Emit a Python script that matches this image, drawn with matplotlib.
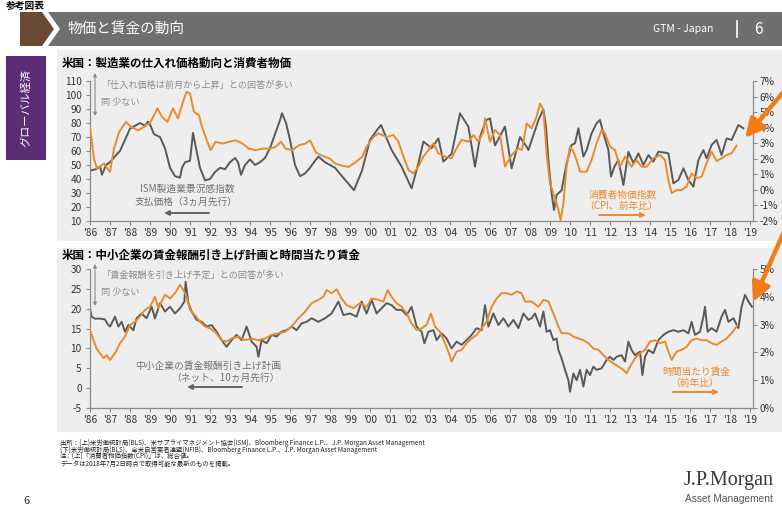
import matplotlib
matplotlib.use('Agg')
import matplotlib.pyplot as plt
from matplotlib.patches import Rectangle, Polygon, FancyArrowPatch
from matplotlib.lines import Line2D

plt.rcParams['font.family'] = ['Noto Sans CJK JP', 'DejaVu Sans']

# ---------------- data ----------------
# Top: ISM manufacturing prices paid (3 months lead), left axis
ism_t = [1986.0, 1986.3, 1986.5, 1986.6, 1986.8, 1987.0, 1987.3, 1987.5, 1987.75, 1988.0,
         1988.25, 1988.5, 1988.75, 1988.9, 1989.0, 1989.2, 1989.5, 1989.75, 1990.0, 1990.25,
         1990.5, 1990.6, 1990.75, 1991.0, 1991.15, 1991.3, 1991.5, 1991.75, 1992.0, 1992.25,
         1992.5, 1992.75, 1993.0, 1993.25, 1993.4, 1993.55, 1993.75, 1994.0, 1994.25, 1994.5,
         1994.75, 1995.0, 1995.25, 1995.5, 1995.6, 1995.8, 1996.0, 1996.25, 1996.5, 1996.75,
         1997.0, 1997.25, 1997.42, 1997.75, 1998.25, 1998.6, 1998.9, 1999.2, 1999.6, 2000.0,
         2000.3, 2000.55, 2000.8, 2001.08, 2001.58, 2002.08, 2002.42, 2002.67, 2003.08, 2003.42,
         2003.67, 2004.08, 2004.5, 2004.92, 2005.25, 2005.5, 2005.8, 2006.0, 2006.25, 2006.75,
         2007.08, 2007.5, 2007.83, 2007.92, 2008.17, 2008.42, 2008.67, 2008.8, 2008.92, 2009.08,
         2009.2, 2009.33, 2009.58, 2009.83, 2010.08, 2010.25, 2010.42, 2010.67, 2010.83, 2011.08,
         2011.33, 2011.5, 2011.67, 2011.92, 2012.05, 2012.22, 2012.42, 2012.67, 2012.92, 2013.17,
         2013.42, 2013.67, 2013.92, 2014.17, 2014.42, 2014.75, 2014.92, 2015.17, 2015.42, 2015.67,
         2015.92, 2016.17, 2016.42, 2016.67, 2016.83, 2017.08, 2017.33, 2017.58, 2017.83, 2018.08,
         2018.42, 2018.67]
ism_v = [46, 47, 49, 43, 50, 52, 57, 60, 68, 76,
         78, 80, 78, 81, 79, 72, 70, 62, 48, 42,
         41, 48, 52, 53, 73, 62, 48, 39, 40, 45,
         48, 47, 52, 55, 52, 43, 50, 54, 50, 52,
         55, 62, 72, 82, 87, 80, 68, 50, 42, 44,
         48, 53, 56, 52, 48, 42, 37, 32, 46, 68,
         74, 78.6, 70, 60.7, 48.8, 33.3, 51.2, 66.7, 62, 69,
         52.4, 58, 86.9, 77.4, 48.8, 70, 82, 83.3, 64, 77.4,
         47.6, 70, 63, 60.7, 71.4, 82, 89.8, 77.4, 53.6, 29.8,
         17.9, 28.6, 32, 51.2, 64.3, 65.5, 76.2, 56, 60.7, 72.6,
         79.8, 82.1, 72.6, 60.7, 41.7, 48.8, 53.6, 35.7, 59.5, 51.2,
         58.3, 50, 57.1, 52.4, 59.5, 58.8, 58.3, 36.9, 39.3, 47.6,
         39.3, 34.5, 53.6, 60.7, 54.8, 64.3, 67.9, 57.1, 69, 67.9,
         78.6, 76.2]

# Top: CPI (YoY, %), right axis
cpi_t = [1986.0, 1986.2, 1986.35, 1986.7, 1987.0, 1987.2, 1987.45, 1987.8, 1988.05, 1988.4,
         1988.7, 1989.03, 1989.37, 1989.6, 1989.87, 1990.15, 1990.4, 1990.65, 1990.83, 1991.0,
         1991.2, 1991.45, 1991.6, 1991.87, 1992.03, 1992.28, 1992.62, 1992.95, 1993.28, 1993.62,
         1993.95, 1994.28, 1994.62, 1995.0, 1995.28, 1995.55, 1995.78, 1996.1, 1996.45, 1996.78,
         1997.0, 1997.3, 1997.58, 1998.0, 1998.25, 1998.58, 1998.92, 1999.28, 1999.6, 1999.83,
         2000.17, 2000.42, 2000.83, 2001.17, 2001.42, 2001.67, 2001.92, 2002.17, 2002.42, 2002.67,
         2002.92, 2003.17, 2003.42, 2003.75, 2004.08, 2004.33, 2004.58, 2004.92, 2005.17, 2005.42,
         2005.67, 2005.75, 2006.0, 2006.25, 2006.5, 2006.75, 2007.08, 2007.42, 2007.6, 2007.83,
         2008.08, 2008.33, 2008.5, 2008.67, 2008.83, 2009.0, 2009.25, 2009.42, 2009.53, 2009.67,
         2009.83, 2010.0, 2010.17, 2010.33, 2010.5, 2010.83, 2011.08, 2011.33, 2011.58, 2011.75,
         2012.0, 2012.25, 2012.5, 2012.75, 2013.08, 2013.33, 2013.58, 2013.83, 2014.17, 2014.5,
         2014.75, 2014.92, 2015.08, 2015.33, 2015.58, 2015.83, 2016.08, 2016.33, 2016.58, 2016.83,
         2017.08, 2017.33, 2017.58, 2017.83, 2018.08, 2018.33]
cpi_v = [4.05, 2.0, 1.36, 1.69, 1.15, 2.65, 3.72, 4.37, 4.05, 3.83,
         4.05, 4.37, 5.24, 4.7, 4.37, 5.24, 4.59, 5.67, 6.31, 6.19,
         5.02, 4.8, 4.05, 3.09, 2.55, 3.09, 2.98, 3.09, 3.19, 2.98,
         2.65, 2.55, 2.65, 2.65, 2.76, 3.09, 2.65, 2.55, 2.87, 2.98,
         3.19, 2.4, 2.22, 2.0, 1.69, 1.57, 1.47, 1.79, 2.11, 2.77,
         3.4, 3.63, 3.4, 3.53, 3.1, 2.14, 1.28, 1.06, 1.49, 2.14,
         2.56, 3.0, 2.35, 2.14, 2.03, 2.68, 3.21, 3.1, 3.53, 3.1,
         3.74, 4.6, 3.1, 3.85, 3.53, 1.49, 2.24, 2.67, 2.56, 4.28,
         3.96, 4.71, 5.56, 5.14, 2.35, 0.42, -0.54, -1.29, -1.94, -0.87,
         1.49, 2.78, 2.46, 1.92, 1.17, 1.17, 1.92, 3.0, 3.85, 3.63,
         2.78, 2.56, 1.49, 2.14, 1.49, 1.92, 1.49, 1.49, 2.03, 2.24,
         1.92, 0.64, -0.22, -0.01, -0.01, 0.21, 1.06, 0.75, 0.85, 1.71,
         2.46, 1.85, 2.03, 2.24, 2.35, 2.85]

# Bottom: NFIB compensation plans (net, 10 months lead), left axis
nfib_t = [1986.0, 1986.08, 1986.25, 1986.5, 1986.75, 1986.9, 1987.0, 1987.25, 1987.42, 1987.58,
          1987.75, 1987.92, 1988.17, 1988.33, 1988.58, 1988.83, 1989.08, 1989.25, 1989.5, 1989.75,
          1990.0, 1990.25, 1990.5, 1990.72, 1990.78, 1990.92, 1991.08, 1991.33, 1991.58, 1991.83,
          1992.08, 1992.33, 1992.58, 1992.83, 1993.08, 1993.33, 1993.58, 1993.83, 1994.08, 1994.33,
          1994.42, 1994.58, 1994.83, 1995.08, 1995.33, 1995.58, 1995.83, 1996.08, 1996.33, 1996.58,
          1996.83, 1997.08, 1997.42, 1997.75, 1998.08, 1998.42, 1998.67, 1999.0, 1999.33, 1999.58,
          1999.83, 2000.08, 2000.33, 2000.58, 2000.83, 2001.08, 2001.33, 2001.58, 2001.83, 2002.08,
          2002.33, 2002.58, 2002.72, 2002.92, 2003.17, 2003.33, 2003.58, 2003.83, 2004.08, 2004.33,
          2004.58, 2004.83, 2005.08, 2005.33, 2005.58, 2005.75, 2005.92, 2006.17, 2006.42, 2006.67,
          2006.92, 2007.17, 2007.42, 2007.67, 2007.92, 2008.08, 2008.25, 2008.5, 2008.67, 2008.83,
          2009.0, 2009.17, 2009.33, 2009.42, 2009.58, 2009.75, 2009.92, 2010.0, 2010.17, 2010.33,
          2010.5, 2010.67, 2010.83, 2011.0, 2011.17, 2011.33, 2011.58, 2011.83, 2012.0, 2012.17,
          2012.33, 2012.58, 2012.75, 2012.92, 2013.08, 2013.25, 2013.5, 2013.62, 2013.75, 2013.92,
          2014.17, 2014.42, 2014.67, 2014.92, 2015.17, 2015.42, 2015.67, 2015.92, 2016.08, 2016.25,
          2016.5, 2016.67, 2016.75, 2016.88, 2017.08, 2017.33, 2017.58, 2017.75, 2017.92, 2018.17,
          2018.42, 2018.58, 2018.75, 2018.92, 2019.1]
nfib_v = [20, 18, 17.5, 17.5, 17.3, 16, 15.5, 18, 15.5, 16.7,
          14.2, 15.9, 14.6, 17.6, 18.8, 17.6, 20.5, 17.6, 21.4, 19.3,
          20.5, 18.8, 20.1, 21.8, 26.8, 21.4, 19.3, 17.2, 16.7, 15.5,
          15.9, 14.2, 12.1, 10.4, 12.1, 13.4, 12.1, 15.5, 11.7, 10.4,
          7.9, 12.1, 11.3, 13.4, 13, 14.2, 14.6, 15.5, 14.6, 16.3,
          16.7, 17.6, 16.7, 17.6, 18.8, 21.8, 18.4, 18.8, 18, 21.8,
          18.8, 22.2, 18.8, 20.1, 21.4, 20.9, 19.7, 19.7, 18.4, 20.5,
          15.5, 14.2, 11.3, 14.2, 14.6, 12.1, 13.8, 12.5, 10, 11.7,
          10.9, 12.1, 13.4, 15.1, 14.6, 20.9, 15.5, 18.8, 15.9, 17.6,
          15.5, 17.2, 15.1, 18.8, 17.2, 17.6, 18.8, 15.5, 19.3, 14.2,
          14.6, 12.1, 12.5, 9.6, 7.5, 4.6, 2.0, -0.9, 3.7, 2.0,
          4.6, 0.4, 4.6, 3.3, 5.4, 4.6, 5, 7.1, 7.9, 7.1,
          7.9, 8.3, 6.7, 11.7, 9.6, 8.3, 9.2, 3.3, 7.9, 9.6,
          8.8, 12.1, 13.4, 14.2, 14.6, 14.2, 14.6, 13.8, 16.7, 13.4,
          14.2, 18, 20.5, 14.2, 15.1, 14.2, 18, 19.7, 16.7, 17.6,
          15.1, 20.5, 23.5, 21.8, 20.5]

# Bottom: average hourly earnings (YoY, %), right axis
ahe_t = [1986.0, 1986.17, 1986.33, 1986.5, 1986.67, 1986.83, 1987.0, 1987.25, 1987.5, 1987.75,
         1988.0, 1988.25, 1988.5, 1988.75, 1989.0, 1989.25, 1989.42, 1989.58, 1989.75, 1990.0,
         1990.25, 1990.5, 1990.67, 1990.83, 1991.0, 1991.25, 1991.5, 1991.75, 1992.0, 1992.25,
         1992.58, 1992.83, 1993.08, 1993.42, 1993.75, 1994.08, 1994.42, 1994.75, 1995.08, 1995.42,
         1995.75, 1996.08, 1996.42, 1996.75, 1997.08, 1997.42, 1997.67, 1997.83, 1998.08, 1998.33,
         1998.58, 1998.83, 1999.17, 1999.5, 1999.83, 2000.08, 2000.42, 2000.67, 2000.88, 2001.08,
         2001.33, 2001.58, 2001.83, 2002.08, 2002.33, 2002.58, 2002.83, 2003.05, 2003.25, 2003.5,
         2003.75, 2003.95, 2004.08, 2004.33, 2004.58, 2004.83, 2005.08, 2005.33, 2005.58, 2005.83,
         2006.08, 2006.33, 2006.58, 2006.83, 2007.08, 2007.33, 2007.58, 2007.75, 2008.08, 2008.42,
         2008.67, 2008.92, 2009.17, 2009.42, 2009.58, 2009.92, 2010.17, 2010.42, 2010.67, 2010.92,
         2011.17, 2011.42, 2011.67, 2011.92, 2012.17, 2012.42, 2012.67, 2012.83, 2013.0, 2013.25,
         2013.5, 2013.75, 2014.0, 2014.25, 2014.5, 2014.75, 2014.92, 2015.08, 2015.33, 2015.58,
         2015.83, 2016.08, 2016.33, 2016.58, 2016.83, 2017.08, 2017.33, 2017.58, 2017.83, 2018.08,
         2018.37]
ahe_v = [2.80, 2.44, 2.14, 1.97, 1.79, 1.90, 1.73, 1.97, 2.33, 2.57,
         2.99, 3.10, 3.29, 3.53, 3.64, 4.0, 3.59, 3.83, 4.07, 3.94,
         4.13, 4.43, 4.24, 4.0, 3.53, 3.34, 3.10, 2.93, 2.87, 2.74,
         2.44, 2.39, 2.5, 2.57, 2.44, 2.5, 2.44, 2.5, 2.63, 2.69,
         2.74, 2.93, 3.23, 3.46, 3.77, 3.89, 4.0, 4.24, 4.13, 4.27,
         3.94, 3.70, 3.59, 3.77, 3.64, 3.94, 3.89, 3.83, 4.24, 4.0,
         3.77, 3.64, 3.40, 3.04, 2.80, 2.87, 2.99, 3.40, 2.93, 2.74,
         2.33, 1.97, 1.67, 2.03, 2.09, 2.33, 2.5, 2.63, 2.87, 3.10,
         3.64, 3.94, 4.13, 4.13, 4.07, 4.19, 4.13, 3.83, 3.83, 3.64,
         3.89, 3.83, 3.40, 2.93, 2.69, 2.69, 2.57, 2.5, 2.44, 2.33,
         2.14, 2.09, 1.90, 1.73, 1.60, 1.49, 1.37, 1.24, 1.49, 1.79,
         1.97, 2.09, 2.39, 2.44, 2.33, 2.39, 2.03, 1.73, 2.03, 2.09,
         2.2, 2.44, 2.5, 2.44, 2.44, 2.33, 2.27, 2.39, 2.5, 2.69,
         2.97]

years = list(range(1986, 2020))
year_labels = ["'" + str(y)[2:] for y in years]
top_left_ticks = list(range(10, 111, 10))
top_right_ticks = list(range(-2, 8))
bot_left_ticks = list(range(-5, 31, 5))
bot_right_ticks = list(range(0, 6))

# ---------------- figure ----------------
W, H = 782, 523
def fx(x):
    return x / W
def fy(y):
    return 1 - y / H

ORANGE = '#ea8a2e'
GRAY = '#595959'
AXC = '#8a8a8a'
TXT = '#333333'
PANEL = '#eeeeee'

fig = plt.figure(figsize=(7.82, 5.23), dpi=100)
fig.patch.set_facecolor('white')

def frect(x0, y0, x1, y1, color, z=-10):
    fig.patches.append(Rectangle((fx(x0), fy(y1)), (x1 - x0) / W, (y1 - y0) / H,
                                 transform=fig.transFigure, facecolor=color,
                                 edgecolor='none', zorder=z))

def fpoly(pts, color):
    fig.patches.append(Polygon([(fx(a), fy(b)) for a, b in pts], closed=True,
                               transform=fig.transFigure, facecolor=color,
                               edgecolor='none', zorder=-10))

# page title above the header band
fig.text(fx(6), fy(6), '参考図表', fontsize=7, fontweight='bold', color='black',
         va='center', ha='left')

# header band
fpoly([(20, 12), (42, 12), (54, 29), (42, 46), (20, 46)], '#6b4a35')
fpoly([(48, 12), (782, 12), (782, 46), (48, 46), (60, 29)], '#6f6f6f')
fig.text(fx(68), fy(29), '物価と賃金の動向', color='white', fontsize=10.5, va='center', ha='left')
fig.text(fx(713), fy(29), 'GTM - Japan', color='white', fontsize=7.5, va='center', ha='right')
fig.add_artist(Line2D([fx(737), fx(737)], [fy(21), fy(37)], color='white', lw=1.2,
                      transform=fig.transFigure))
fig.text(fx(758), fy(29), '6', color='white', fontsize=11, va='center', ha='center')

# side label
frect(6, 56, 46, 160, '#5c2d74')
fig.text(fx(26), fy(108), 'グローバル経済', color='white', fontsize=8, rotation=90,
         va='center', ha='center')

# panels
frect(57, 50, 782, 241, PANEL)
frect(57, 248, 782, 432, PANEL)

# chart titles
fig.text(fx(62), fy(63), '米国：製造業の仕入れ価格動向と消費者物価', fontsize=8.3,
         fontweight='bold', color='black', va='center', ha='left')
fig.text(fx(62), fy(255), '米国：中小企業の賃金報酬引き上げ計画と時間当たり賃金', fontsize=8.3,
         fontweight='bold', color='black', va='center', ha='left')


def style(ax, axr, ylim, lticks, rlim, rticks):
    ax.set_xlim(1986, 2019.15)
    ax.set_ylim(*ylim)
    axr.set_ylim(*rlim)
    ax.patch.set_visible(False)
    axr.patch.set_visible(False)
    for s in ['top', 'right']:
        ax.spines[s].set_visible(False)
    for s in ['top', 'left', 'bottom']:
        axr.spines[s].set_visible(False)
    for s in ['left', 'bottom']:
        ax.spines[s].set_color(AXC)
        ax.spines[s].set_linewidth(0.9)
    axr.spines['right'].set_color(AXC)
    axr.spines['right'].set_linewidth(0.9)
    ax.set_xticks(years)
    ax.set_xticklabels(year_labels)
    ax.set_yticks(lticks)
    ax.set_yticklabels([str(v) for v in lticks])
    axr.set_yticks(rticks)
    axr.set_yticklabels([f'{v}%' for v in rticks])
    ax.tick_params(axis='x', length=3, width=0.8, pad=2, labelsize=7.3, color=AXC, labelcolor=TXT)
    ax.tick_params(axis='y', length=3, width=0.8, pad=3, labelsize=7.3, color=AXC, labelcolor=TXT)
    axr.tick_params(axis='y', length=3, width=0.8, pad=1.5, labelsize=7.3, color=AXC, labelcolor=TXT)


# ---- top chart ----
ax1 = fig.add_axes([fx(90), fy(221), 663 / W, 140 / H])
ax1r = ax1.twinx()
style(ax1, ax1r, (10, 110), top_left_ticks, (-2, 7), top_right_ticks)
ax1.plot(ism_t, ism_v, color=GRAY, lw=1.4, solid_joinstyle='round')
ax1r.plot(cpi_t, cpi_v, color=ORANGE, lw=1.4, solid_joinstyle='round')

# ---- bottom chart ----
ax2 = fig.add_axes([fx(90), fy(408), 663 / W, 139 / H])
ax2r = ax2.twinx()
style(ax2, ax2r, (-5, 30), bot_left_ticks, (0, 5), bot_right_ticks)
ax2.plot(nfib_t, nfib_v, color=GRAY, lw=1.4, solid_joinstyle='round')
ax2r.plot(ahe_t, ahe_v, color=ORANGE, lw=1.4, solid_joinstyle='round')


def farrow(p0, p1, color, lw, ms, style='-|>'):
    fig.add_artist(FancyArrowPatch((fx(p0[0]), fy(p0[1])), (fx(p1[0]), fy(p1[1])),
                                   transform=fig.transFigure, arrowstyle=style,
                                   mutation_scale=ms, color=color, lw=lw,
                                   shrinkA=0, shrinkB=0, zorder=10))

ANN_GRAY = '#8c8c8c'
# top annotations
farrow((95, 116), (95, 73), ANN_GRAY, 0.8, 5, '<|-|>')
fig.text(fx(101), fy(85), '「仕入れ価格は前月から上昇」との回答が多い', fontsize=6.6,
         color=ANN_GRAY, va='center', ha='left')
fig.text(fx(101), fy(103), '同 少ない', fontsize=6.6, color=ANN_GRAY, va='center', ha='left')
fig.text(fx(187), fy(189), 'ISM製造業景況感指数', fontsize=7, color='#707070', va='center', ha='center')
fig.text(fx(186), fy(202), '支払価格（3ヵ月先行）', fontsize=7, color='#707070', va='center', ha='center')
farrow((209, 213), (164, 213), '#666666', 1.4, 7)
fig.text(fx(623), fy(195), '消費者物価指数', fontsize=7, color=ORANGE, va='center', ha='center')
fig.text(fx(621), fy(206), '（CPI、前年比）', fontsize=7, color=ORANGE, va='center', ha='center')
farrow((599, 215), (646, 215), ORANGE, 1.4, 7)

# bottom annotations
farrow((95, 306), (95, 264), ANN_GRAY, 0.8, 5, '<|-|>')
fig.text(fx(101), fy(275), '「賃金報酬を引き上げ予定」との回答が多い', fontsize=6.6,
         color=ANN_GRAY, va='center', ha='left')
fig.text(fx(101), fy(293), '同 少ない', fontsize=6.6, color=ANN_GRAY, va='center', ha='left')
fig.text(fx(208), fy(366), '中小企業の賃金報酬引き上げ計画', fontsize=7, color='#707070', va='center', ha='center')
fig.text(fx(226), fy(378), '（ネット、10ヵ月先行）', fontsize=7, color='#707070', va='center', ha='center')
farrow((242, 387), (187, 387), '#666666', 1.4, 7)
fig.text(fx(696), fy(372), '時間当たり賃金', fontsize=7, color=ORANGE, va='center', ha='center')
fig.text(fx(695), fy(383), '（前年比）', fontsize=7, color=ORANGE, va='center', ha='center')
farrow((673, 392), (719, 392), ORANGE, 1.4, 7)

# big orange pointer arrows
BIG = '#f47c16'
farrow((790, 84), (745, 138), BIG, 3.2, 28)
farrow((790, 218), (753, 302), BIG, 3.2, 28)

# footnotes
notes = ['出所：(上)米労働統計局(BLS)、米サプライマネジメント協会(ISM)、Bloomberg Finance L.P.、J.P. Morgan Asset Management',
         '(下)米労働統計局(BLS)、全米自営業者連盟(NFIB)、Bloomberg Finance L.P.、J.P. Morgan Asset Management',
         '注：(上)「消費者物価指数(CPI)」は、総合値。',
         'データは2018年7月2日時点で取得可能な最新のものを掲載。']
for i, line in enumerate(notes):
    fig.text(fx(60), fy(443 + 7 * i), line, fontsize=4.6, color='#222222', va='center', ha='left')

fig.text(fx(27), fy(501), '6', fontsize=8, color='#333333', va='center', ha='center')
fig.text(fx(684), fy(480), 'J.P.Morgan', family=['Liberation Serif', 'DejaVu Serif'],
         fontsize=14.5, color='#3a3a3a', va='center', ha='left')
fig.text(fx(685), fy(499), 'Asset Management', family=['Liberation Sans', 'DejaVu Sans'],
         fontsize=7.3, color='#555555', va='center', ha='left')

fig.savefig('out.png', dpi=100, facecolor='white')
